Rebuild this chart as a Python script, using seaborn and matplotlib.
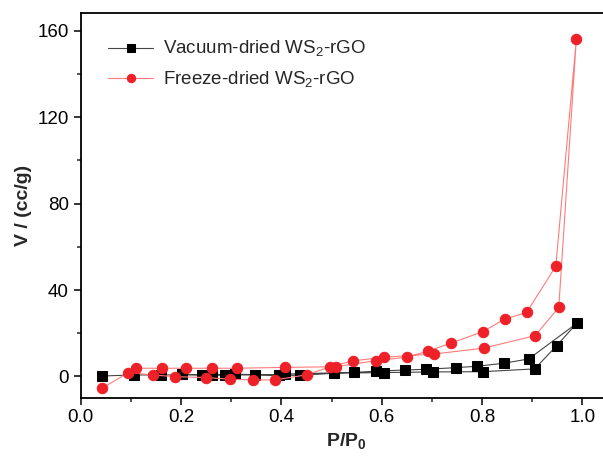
import matplotlib
matplotlib.use("Agg")
import matplotlib.pyplot as plt
import seaborn as sns
from matplotlib.ticker import MultipleLocator

# -----------------------------
# Data (read off the isotherm)
# adsorption branch then desorption branch
# -----------------------------
vac_p = [0.042, 0.106, 0.160, 0.241, 0.288, 0.348, 0.438, 0.505, 0.605, 0.703, 0.801, 0.905, 0.949, 0.989,
         0.893, 0.843, 0.789, 0.749, 0.688, 0.646, 0.588, 0.545, 0.408, 0.395, 0.308, 0.261, 0.201, 0.160]
vac_v = [0.2, 0.7, 0.7, 0.7, 0.7, 0.7, 0.5, 1.5, 1.8, 2.1, 2.2, 3.5, 14.3, 24.6,
         8.1, 6.1, 4.7, 4.1, 3.3, 3.0, 2.4, 1.9, 1.1, 0.7, 1.0, 0.7, 1.0, 0.7]

frz_p = [0.042, 0.095, 0.143, 0.188, 0.250, 0.298, 0.343, 0.388, 0.451, 0.497, 0.542, 0.605, 0.705, 0.803, 0.906, 0.953, 0.988,
         0.947, 0.889, 0.845, 0.801, 0.738, 0.693, 0.650, 0.588, 0.508, 0.408, 0.311, 0.261, 0.210, 0.161, 0.110]
frz_v = [-5.5, 1.8, 0.7, -0.1, -0.5, -1.3, -1.6, -1.6, 0.8, 4.5, 7.2, 8.9, 10.4, 13.1, 18.9, 32.0, 156.0,
         51.0, 29.7, 26.5, 20.7, 15.4, 11.8, 8.9, 7.3, 4.5, 4.2, 3.8, 3.8, 3.8, 3.8, 3.8]

# -----------------------------
# Style
# -----------------------------
sns.set_style("ticks")
plt.rcParams["font.family"] = ["Liberation Sans", "DejaVu Sans"]
plt.rcParams["mathtext.fontset"] = "custom"
plt.rcParams["mathtext.rm"] = "Liberation Sans"
plt.rcParams["mathtext.bf"] = "Liberation Sans:bold"

fig = plt.figure(figsize=(6.03, 4.70), dpi=100)
# right edge of the frame runs past the figure border, like the reference
ax = fig.add_axes([0.134, 0.154, 0.880, 0.819])

sns.lineplot(x=vac_p, y=vac_v, sort=False, ax=ax, color="#444444", linewidth=0.8,
             marker="s", markersize=6.5, markerfacecolor="black", markeredgecolor="black",
             label="Vacuum-dried WS$_2$-rGO")
sns.lineplot(x=frz_p, y=frz_v, sort=False, ax=ax, color="#ff7b7b", linewidth=0.8,
             marker="o", markersize=7.5, markerfacecolor="#ee2128", markeredgecolor="#ee2128",
             label="Freeze-dried WS$_2$-rGO")

ax.set_xlim(0, 1.058)
ax.set_ylim(-9.8, 168.4)
ax.xaxis.set_major_locator(MultipleLocator(0.2))
ax.xaxis.set_minor_locator(MultipleLocator(0.1))
ax.yaxis.set_major_locator(MultipleLocator(40))
ax.yaxis.set_minor_locator(MultipleLocator(20))
ax.tick_params(which="major", direction="out", length=5, width=1.1, labelsize=13.5, colors="black")
ax.tick_params(which="minor", direction="out", length=3, width=1.1)
ax.set_xticks([0.0, 0.2, 0.4, 0.6, 0.8, 1.0])
ax.set_xticklabels(["0.0", "0.2", "0.4", "0.6", "0.8", "1.0"])

for side in ["left", "bottom", "top"]:
    ax.spines[side].set_linewidth(1.3)
    ax.spines[side].set_color("black")
ax.spines["right"].set_visible(False)

ax.set_xlabel("P/P$_\\mathbf{0}$", fontsize=14, fontweight="bold", labelpad=4)
ax.set_ylabel("V / (cc/g)", fontsize=14, fontweight="bold", labelpad=4)

ax.legend(loc="upper left", bbox_to_anchor=(0.02, 0.975), frameon=False, fontsize=13.5,
          handlelength=2.4, labelspacing=0.55, handletextpad=0.5, markerscale=0.8)

fig.savefig("out.png", dpi=100)
